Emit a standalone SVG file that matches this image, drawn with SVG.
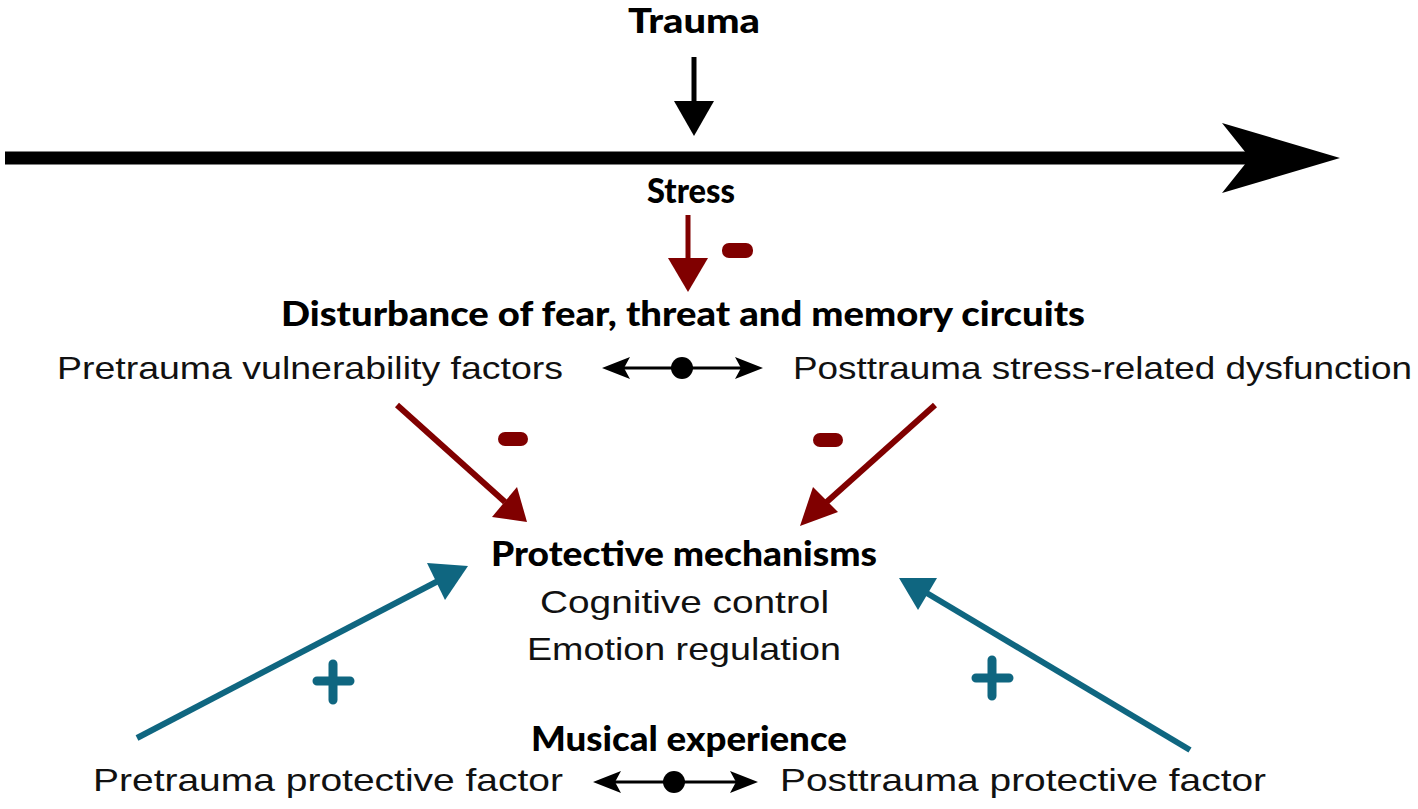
<svg xmlns="http://www.w3.org/2000/svg" width="1418" height="809" viewBox="0 0 1418 809">
<style>
.b{font-family:Lato,"Liberation Sans",sans-serif;font-weight:900;font-size:34px;fill:#000}
.r{font-family:"Liberation Sans",Arial,sans-serif;font-size:32px;fill:#111}
.red{stroke:#800000;stroke-width:6;fill:none}
.teal{stroke:#0f6680;stroke-width:6;fill:none}
.blk{stroke:#000;stroke-width:3;fill:none}
</style>
<rect width="1418" height="809" fill="#fff"/>
<g id="connectors">
  <!-- timeline -->
  <line x1="5" y1="158" x2="1255" y2="158" stroke="#000" stroke-width="13"/>
  <polygon points="1222,123 1340,158 1222,193 1250,158" fill="#000"/>
  <!-- trauma arrow -->
  <line x1="694" y1="57" x2="694" y2="104" stroke="#000" stroke-width="5"/>
  <polygon points="674,101 714,101 694,136" fill="#000"/>
  <!-- stress arrow -->
  <line x1="688" y1="215" x2="688" y2="262" stroke="#800000" stroke-width="5"/>
  <polygon points="668,258 708,258 688,292" fill="#800000"/>
  <!-- top double arrow -->
  <line x1="620" y1="368" x2="745" y2="368" class="blk"/>
  <polygon points="602,368 630,357 624,368 630,379" fill="#000"/>
  <polygon points="763,368 735,357 741,368 735,379" fill="#000"/>
  <circle cx="682" cy="368" r="11" fill="#000"/>
  <!-- red diagonal arrows -->
  <line x1="397" y1="405" x2="505" y2="502" class="red"/>
  <polygon points="527,522 517,487 492,517" fill="#800000"/>
  <line x1="935" y1="405" x2="820" y2="508" class="red"/>
  <polygon points="800,526 838,512 813,487" fill="#800000"/>
  <!-- teal arrows -->
  <line x1="137" y1="738" x2="440" y2="580" class="teal"/>
  <polygon points="468,566 427,563 445,600" fill="#0f6680"/>
  <line x1="1190" y1="750" x2="925" y2="592" class="teal"/>
  <polygon points="899,578 937,578 918,610" fill="#0f6680"/>
  <!-- bottom double arrow -->
  <line x1="610" y1="782" x2="740" y2="782" class="blk"/>
  <polygon points="593,782 621,771 615,782 621,793" fill="#000"/>
  <polygon points="758,782 730,771 736,782 730,793" fill="#000"/>
  <circle cx="674" cy="782" r="11" fill="#000"/>
</g>
<g id="signs">
  <rect x="722" y="243" width="31" height="15" rx="7" fill="#800000"/>
  <rect x="498" y="432" width="30" height="14" rx="7" fill="#800000"/>
  <rect x="813" y="433" width="30" height="14" rx="7" fill="#800000"/>
  <path d="M333,664 V700 M317,681 H350" stroke="#0f6680" stroke-width="9" stroke-linecap="round"/>
  <path d="M992,660 V696 M976,678 H1009" stroke="#0f6680" stroke-width="9" stroke-linecap="round"/>
</g>
<g id="trauma"><text class="b" x="628" y="33" textLength="132" lengthAdjust="spacingAndGlyphs">Trauma</text></g>
<g id="stress"><text class="b" x="647" y="203" textLength="88" lengthAdjust="spacingAndGlyphs">Stress</text></g>
<g id="disturbance">
  <text class="b" x="281" y="326" textLength="804" lengthAdjust="spacingAndGlyphs">Disturbance of fear, threat and memory circuits</text>
  <text class="r" x="57" y="379" textLength="506" lengthAdjust="spacingAndGlyphs">Pretrauma vulnerability factors</text>
  <text class="r" x="793" y="379" textLength="619" lengthAdjust="spacingAndGlyphs">Posttrauma stress-related dysfunction</text>
</g>
<g id="protective">
  <text class="b" x="491" y="566" textLength="386" lengthAdjust="spacingAndGlyphs">Protective mechanisms</text>
  <text class="r" x="540" y="613" textLength="289" lengthAdjust="spacingAndGlyphs">Cognitive control</text>
  <text class="r" x="527" y="660" textLength="314" lengthAdjust="spacingAndGlyphs">Emotion regulation</text>
</g>
<g id="musical">
  <text class="b" x="531" y="751" textLength="316" lengthAdjust="spacingAndGlyphs">Musical experience</text>
  <text class="r" x="93" y="791" textLength="470" lengthAdjust="spacingAndGlyphs">Pretrauma protective factor</text>
  <text class="r" x="780" y="791" textLength="486" lengthAdjust="spacingAndGlyphs">Posttrauma protective factor</text>
</g>
</svg>
